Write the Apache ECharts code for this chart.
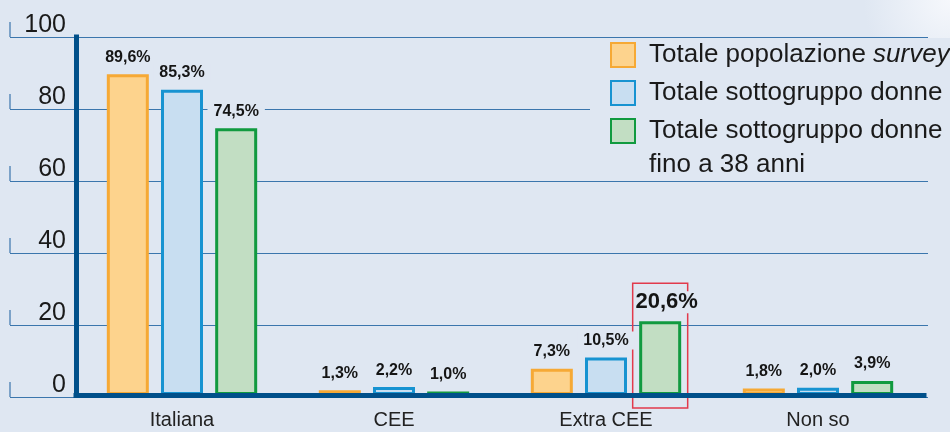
<!DOCTYPE html>
<html>
<head>
<meta charset="utf-8">
<script src="https://cdn.jsdelivr.net/npm/echarts@6/dist/echarts.min.js"></script>
<style>
html, body { margin: 0; padding: 0; }
#chart { width: 950px; height: 432px; }
</style>
</head>
<body>
<div id="chart"></div>
<script>
// dati
const categories = ['Italiana', 'CEE', 'Extra CEE', 'Non so'];
const seriesNames = ['Totale popolazione survey', 'Totale sottogruppo donne', 'Totale sottogruppo donne fino a 38 anni'];
const legendLabels = ['Totale popolazione {i|survey}', 'Totale sottogruppo donne', 'Totale sottogruppo donne\nfino a 38 anni'];
const totalePopolazione = [89.6, 1.3, 7.3, 1.8];
const sottogruppoDonne = [85.3, 2.2, 10.5, 2.0];
const donneFino38 = [74.5, 1.0, 20.6, 3.9];
const yTicks = [0, 20, 40, 60, 80, 100];
const highlight = { category: 'Extra CEE', series: 2 };

const BG = '#dfe7f2';
const FONT = '"Liberation Sans", Arial, sans-serif';
const GRID_LINE = '#3b76ad';
const AXIS = '#00508a';
const BAR_W = 42;
const BAR_GAP = 0.29;

const fills = ['#fdd38d', '#c8def1', '#c2dec3'];
const borders = ['#f6a935', '#1793d1', '#119a3f'];
const values = [totalePopolazione, sottogruppoDonne, donneFino38];

const fmt = v => v.toFixed(1).replace('.', ',') + '%';

const barSeries = values.map((vals, s) => ({
    name: seriesNames[s],
    type: 'bar',
    barWidth: BAR_W,
    barGap: (BAR_GAP * 100) + '%',
    itemStyle: { color: fills[s], borderColor: borders[s], borderWidth: 3 },
    label: {
        show: true,
        position: 'top',
        distance: 8,
        fontFamily: FONT,
        fontWeight: 'bold',
        fontSize: 16,
        color: '#151515',
        backgroundColor: BG,
        padding: [1, 6],
        formatter: p => fmt(p.value)
    },
    emphasis: { disabled: true },
    data: vals.map((v, i) => (s === highlight.series && categories[i] === highlight.category)
        ? { value: v, label: { fontSize: 22, offset: [9, 0], padding: [0, 6, 0, 1] } }
        : v)
}));

// riquadro rosso attorno alla barra evidenziata
const hlIndex = categories.indexOf(highlight.category);
const highlightBox = {
    type: 'custom',
    xAxisIndex: 0,
    yAxisIndex: 0,
    z: 1,
    silent: true,
    data: [[hlIndex, values[highlight.series][hlIndex]]],
    renderItem: function (params, api) {
        const base = api.coord([api.value(0), 0]);
        const top = api.coord([api.value(0), api.value(1)]);
        const cx = base[0] + (highlight.series - 1) * (BAR_W + BAR_W * BAR_GAP);
        const y0 = top[1] - 38;
        return {
            type: 'rect',
            shape: { x: cx - 27.5, y: y0, width: 55, height: base[1] + 13 - y0 },
            style: { fill: 'none', stroke: '#e23a4c', lineWidth: 1.5 }
        };
    }
};

// trattini verticali all'estremità sinistra delle linee di griglia
const leftTicks = {
    type: 'scatter',
    xAxisIndex: 1,
    yAxisIndex: 1,
    symbol: 'rect',
    symbolSize: [1.5, 15],
    symbolOffset: [0, '-50%'],
    itemStyle: { color: GRID_LINE },
    silent: true,
    clip: false,
    data: yTicks.map(v => [0, v])
};

const chart = echarts.init(document.getElementById('chart'));
chart.setOption({
    animation: false,
    backgroundColor: {
        type: 'radial', x: 1, y: 0, r: 0.2,
        colorStops: [{ offset: 0, color: '#f6f8fc' }, { offset: 1, color: BG }]
    },
    legend: {
        orient: 'vertical',
        left: 590,
        top: 38,
        padding: [0, 10, -4, 20],
        backgroundColor: BG,
        itemWidth: 24,
        itemHeight: 24,
        itemGap: 4,
        icon: 'rect',
        selectedMode: false,
        textStyle: {
            fontFamily: FONT,
            fontSize: 26,
            color: '#1a1a1a',
            lineHeight: 34,
            padding: [0, 0, 0, 9],
            rich: {
                i: { fontFamily: FONT, fontSize: 26, fontStyle: 'italic', color: '#1a1a1a', lineHeight: 34 }
            }
        },
        formatter: name => legendLabels[seriesNames.indexOf(name)],
        data: [
            { name: seriesNames[0] },
            { name: seriesNames[1] },
            { name: seriesNames[2], textStyle: { padding: [0, 0, -34, 9] } }
        ]
    },
    grid: [
        { left: 76, right: 26, top: 37, bottom: 37 },
        { left: 10, right: 22, top: 37, bottom: 35 }
    ],
    xAxis: [
        {
            type: 'category',
            gridIndex: 0,
            data: categories,
            z: 5,
            offset: 2.5,
            axisLine: { lineStyle: { color: AXIS, width: 5, cap: 'square' } },
            axisTick: { show: false },
            axisLabel: { fontFamily: FONT, fontSize: 20, color: '#222', margin: 13 }
        },
        { type: 'value', gridIndex: 1, min: 0, max: 1, show: false }
    ],
    yAxis: [
        {
            type: 'value',
            gridIndex: 0,
            min: 0, max: 100, interval: 20,
            z: 5,
            axisLine: { show: true, lineStyle: { color: AXIS, width: 5, cap: 'square' } },
            axisTick: { show: false },
            axisLabel: { show: false },
            splitLine: { show: false }
        },
        {
            type: 'value',
            gridIndex: 1,
            min: 0, max: 100, interval: 20,
            axisLine: { show: false },
            axisTick: { show: false },
            splitLine: { lineStyle: { color: GRID_LINE, width: 1 } },
            axisLabel: {
                inside: true,
                margin: 56,
                align: 'right',
                verticalAlign: 'bottom',
                lineHeight: 26,
                padding: [0, 0, -1, 0],
                fontFamily: FONT,
                fontSize: 25,
                color: '#1a1a1a'
            }
        }
    ],
    series: [...barSeries, highlightBox, leftTicks]
});
</script>
</body>
</html>
